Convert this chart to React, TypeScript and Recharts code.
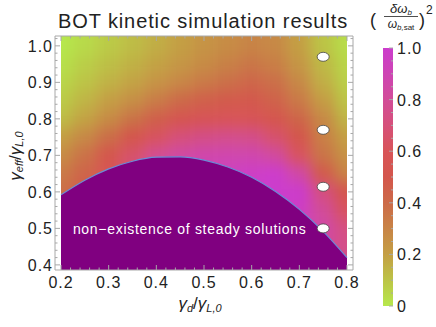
import React from 'react';
import { ComposedChart, XAxis, YAxis, Area, Scatter, ReferenceArea, ReferenceDot } from 'recharts';

// ---------- data ----------
const gridX = [0.2, 0.25, 0.3, 0.35, 0.4, 0.45, 0.5, 0.55, 0.6, 0.65, 0.7, 0.75, 0.8];
const gridY = [1.0, 0.95, 0.9, 0.85, 0.8, 0.75, 0.7, 0.65, 0.6, 0.55, 0.5, 0.45, 0.4];
// one row per gridY value, one entry per gridX value
const heatRows = [
  [0.0, 0.04, 0.08, 0.12, 0.16, 0.2, 0.24, 0.27, 0.3, 0.28, 0.2, 0.1, 0.03],
  [0.02, 0.07, 0.11, 0.15, 0.19, 0.23, 0.27, 0.31, 0.35, 0.32, 0.23, 0.13, 0.05],
  [0.05, 0.1, 0.15, 0.19, 0.24, 0.29, 0.34, 0.38, 0.42, 0.38, 0.28, 0.16, 0.07],
  [0.08, 0.14, 0.2, 0.26, 0.33, 0.4, 0.45, 0.48, 0.49, 0.44, 0.34, 0.21, 0.1],
  [0.12, 0.19, 0.27, 0.36, 0.45, 0.53, 0.58, 0.6, 0.58, 0.52, 0.42, 0.28, 0.14],
  [0.2, 0.28, 0.38, 0.5, 0.62, 0.7, 0.74, 0.76, 0.75, 0.66, 0.5, 0.32, 0.2],
  [0.27, 0.37, 0.5, 0.65, 0.78, 0.84, 0.87, 0.88, 0.88, 0.82, 0.62, 0.36, 0.25],
  [0.34, 0.43, 0.57, 0.72, 0.84, 0.89, 0.92, 0.94, 0.97, 1.0, 0.85, 0.48, 0.3],
  [0.38, 0.47, 0.6, 0.75, 0.86, 0.9, 0.94, 0.97, 1.0, 1.0, 1.0, 0.72, 0.5],
  [0.4, 0.48, 0.62, 0.76, 0.86, 0.9, 0.94, 0.97, 1.0, 1.0, 0.97, 0.8, 0.62],
  [0.4, 0.48, 0.62, 0.76, 0.86, 0.9, 0.94, 0.97, 0.98, 0.98, 0.92, 0.85, 0.72],
  [0.4, 0.48, 0.62, 0.76, 0.86, 0.9, 0.94, 0.97, 0.98, 0.95, 0.88, 0.82, 0.75],
  [0.4, 0.48, 0.62, 0.76, 0.86, 0.9, 0.94, 0.97, 0.98, 0.95, 0.88, 0.82, 0.75],
];

const boundaryX = [0.2, 0.25, 0.3, 0.35, 0.4, 0.45, 0.5, 0.55, 0.6, 0.65, 0.7, 0.75, 0.8];
const boundaryY = [0.592, 0.632, 0.663, 0.684, 0.695, 0.696, 0.687, 0.668, 0.64, 0.601, 0.552, 0.492, 0.42];

const pointX = [0.75, 0.75, 0.75, 0.75];
const pointY = [0.97, 0.77, 0.614, 0.5];

const xMajorTicks = [0.2, 0.3, 0.4, 0.5, 0.6, 0.7, 0.8];
const yMajorTicks = [0.4, 0.5, 0.6, 0.7, 0.8, 0.9, 1.0];
const cbMajorTicks = [0, 0.2, 0.4, 0.6, 0.8, 1.0];
const cbTickLabels = ['0', '0.2', '0.4', '0.6', '0.8', '1.0'];

const colorStopValues = [0, 0.1, 0.2, 0.3, 0.4, 0.5, 0.6, 0.7, 0.8, 0.9, 1.0];
const colorStopColors = ['#b6e84c', '#bcc446', '#c49f44', '#c88446', '#cc6a48', '#d4564c', '#d85458', '#d6507a', '#d24c98', '#ce44b4', '#cc3ccc'];

const TITLE = 'BOT kinetic simulation results';
const REGION_LABEL = 'non\u2212existence of steady solutions';

// ---------- layout / style ----------
const W = 436;
const H = 327;
const FRAME = { left: 55, right: 353, top: 36, bottom: 270 };
const X_DOMAIN: [number, number] = [0.1874, 0.8126];
const Y_DOMAIN: [number, number] = [0.386, 1.027];
const CB = { left: 383, right: 393, top: 48, bottom: 306 };
const FRAME_COLOR = '#a8a8a8';
const TEXT_COLOR = '#222';
const FONT = '"Liberation Sans", Arial, sans-serif';
const PURPLE = '#800080';
const EDGE_EXT = 0.12;

// ---------- helpers ----------
function hexToRgb(h: string) {
  const n = parseInt(h.slice(1), 16);
  return [(n >> 16) & 255, (n >> 8) & 255, n & 255];
}
function heatColor(v: number) {
  const t = Math.max(0, Math.min(1, v));
  let i = 0;
  while (i < colorStopValues.length - 2 && t > colorStopValues[i + 1]) i++;
  const a = hexToRgb(colorStopColors[i]);
  const b = hexToRgb(colorStopColors[i + 1]);
  const f = (t - colorStopValues[i]) / (colorStopValues[i + 1] - colorStopValues[i]);
  const c = a.map((av, k) => Math.round(av + (b[k] - av) * f));
  return `rgb(${c[0]},${c[1]},${c[2]})`;
}
function steps(a: number, b: number, s: number) {
  const out: number[] = [];
  const n = Math.round((b - a) / s);
  for (let i = 0; i <= n; i++) out.push(Math.round((a + i * s) * 1000) / 1000);
  return out;
}
const isIn = (arr: number[], v: number) => arr.some((m) => Math.abs(m - v) < 1e-6);

const cells: { key: string; x1: number; x2: number; y1: number; y2: number; fill: string }[] = [];
gridY.forEach((yv, r) => {
  const top = r === 0 ? yv + EDGE_EXT : (gridY[r - 1] + yv) / 2;
  const bot = r === gridY.length - 1 ? yv - EDGE_EXT : (yv + gridY[r + 1]) / 2;
  gridX.forEach((xv, c) => {
    const left = c === 0 ? xv - EDGE_EXT : (gridX[c - 1] + xv) / 2;
    const right = c === gridX.length - 1 ? xv + EDGE_EXT : (xv + gridX[c + 1]) / 2;
    cells.push({ key: `${r}-${c}`, x1: left, x2: right, y1: bot, y2: top, fill: heatColor(heatRows[r][c]) });
  });
});

const boundaryData = boundaryX.map((x, i) => ({ x, y: boundaryY[i] }));
const pointData = pointX.map((x, i) => ({ x, y: pointY[i] }));

const xTickAll = steps(0.2, 0.8, 0.02);
const yTickAll = steps(0.4, 1.02, 0.02);
const cbTickAll = steps(0, 1, 0.05);

type Side = 'bottom' | 'top' | 'left' | 'right' | 'cb';
function makeTick(side: Side, majors: number[], label: boolean, fmt: (v: number) => string) {
  return (props: any) => {
    const { x, y, payload } = props;
    const v = payload.value;
    const major = isIn(majors, v);
    const len = major ? 5 : 2.5;
    let x2 = x;
    let y2 = y;
    if (side === 'bottom') y2 = y - len;
    if (side === 'top') y2 = y + len;
    if (side === 'left') x2 = x + len;
    if (side === 'right' || side === 'cb') x2 = x - (side === 'cb' ? (major ? 4 : 2) : len);
    let txt: any = null;
    if (label && major) {
      const common = { fontSize: 16, fill: TEXT_COLOR, fontFamily: FONT, letterSpacing: 1 };
      if (side === 'bottom') txt = <text x={x} y={y + 18} textAnchor="middle" {...common}>{fmt(v)}</text>;
      if (side === 'left') txt = <text x={x - 2} y={y + 6} textAnchor="end" {...common}>{fmt(v)}</text>;
      if (side === 'cb') txt = <text x={x + 4} y={y + 6} textAnchor="start" {...common}>{fmt(v)}</text>;
    }
    return (
      <g>
        <line x1={x} y1={y} x2={x2} y2={y2} stroke={FRAME_COLOR} strokeWidth={1} />
        {txt}
      </g>
    );
  };
}

const fmt1 = (v: number) => v.toFixed(1);
const fmtCb = (v: number) => {
  const i = cbMajorTicks.findIndex((m) => Math.abs(m - v) < 1e-6);
  return i >= 0 ? cbTickLabels[i] : '';
};

const EllipseShape = (p: any) => (
  <ellipse cx={p.cx} cy={p.cy} rx={6} ry={4.5} fill="#ffffff" stroke="#444" strokeWidth={0.8} />
);

const RegionLabel = (p: any) => {
  const vb = p.viewBox || {};
  const cx = (vb.x ?? 0) + (vb.width ?? 0) / 2;
  const cy = (vb.y ?? 0) + (vb.height ?? 0) / 2;
  return (
    <text x={cx} y={cy + 5} textAnchor="middle" fill="#ffffff" fontSize={14} fontFamily={FONT} letterSpacing={0.7}>
      {REGION_LABEL}
    </text>
  );
};

export default function App() {
  const frameMargin = { top: FRAME.top, left: FRAME.left, right: W - FRAME.right, bottom: H - FRAME.bottom };
  return (
    <div style={{ position: 'absolute', left: 0, top: 0, width: W, height: H, background: '#fff', overflow: 'hidden', fontFamily: FONT }}>
      <svg width={0} height={0} style={{ position: 'absolute' }}>
        <defs>
          <linearGradient id="cbGrad" x1="0" y1="1" x2="0" y2="0">
            {colorStopValues.map((v, i) => (
              <stop key={i} offset={`${v * 100}%`} stopColor={colorStopColors[i]} />
            ))}
          </linearGradient>
        </defs>
      </svg>

      {/* heat map underlay, smoothed */}
      <div
        style={{
          position: 'absolute',
          left: FRAME.left,
          top: FRAME.top,
          width: FRAME.right - FRAME.left,
          height: FRAME.bottom - FRAME.top,
          overflow: 'hidden',
        }}
      >
        <div style={{ position: 'absolute', left: -FRAME.left, top: -FRAME.top, filter: 'blur(7px)' }}>
          <ComposedChart width={W} height={H} data={boundaryData} margin={frameMargin}>
            <XAxis type="number" dataKey="x" domain={X_DOMAIN} allowDataOverflow hide />
            <YAxis type="number" dataKey="y" domain={Y_DOMAIN} allowDataOverflow hide />
            {cells.map((c) => (
              <ReferenceArea
                key={c.key}
                x1={c.x1}
                x2={c.x2}
                y1={c.y1}
                y2={c.y2}
                fill={c.fill}
                fillOpacity={1}
                stroke={c.fill}
                strokeWidth={0.6}
                ifOverflow="visible"
              />
            ))}
          </ComposedChart>
        </div>
      </div>

      {/* main chart */}
      <div style={{ position: 'absolute', left: 0, top: 0 }}>
        <ComposedChart
          width={W}
          height={H}
          data={boundaryData}
          margin={{ top: FRAME.top, left: FRAME.left - 40, right: W - FRAME.right, bottom: H - FRAME.bottom - 30 }}
        >
          <XAxis
            xAxisId="b"
            type="number"
            dataKey="x"
            domain={X_DOMAIN}
            allowDataOverflow
            ticks={xTickAll}
            interval={0}
            height={30}
            tickSize={0}
            tickMargin={0}
            tickLine={false}
            axisLine={{ stroke: FRAME_COLOR }}
            tick={makeTick('bottom', xMajorTicks, true, fmt1)}
          />
          <XAxis
            xAxisId="t"
            orientation="top"
            mirror
            type="number"
            dataKey="x"
            domain={X_DOMAIN}
            allowDataOverflow
            ticks={xTickAll}
            interval={0}
            tickSize={0}
            tickMargin={0}
            tickLine={false}
            axisLine={{ stroke: FRAME_COLOR }}
            tick={makeTick('top', xMajorTicks, false, fmt1)}
          />
          <YAxis
            yAxisId="l"
            type="number"
            dataKey="y"
            domain={Y_DOMAIN}
            allowDataOverflow
            ticks={yTickAll}
            interval={0}
            width={40}
            tickSize={0}
            tickMargin={0}
            tickLine={false}
            axisLine={{ stroke: FRAME_COLOR }}
            tick={makeTick('left', yMajorTicks, true, fmt1)}
          />
          <YAxis
            yAxisId="r"
            orientation="right"
            mirror
            type="number"
            dataKey="y"
            domain={Y_DOMAIN}
            allowDataOverflow
            ticks={yTickAll}
            interval={0}
            tickSize={0}
            tickMargin={0}
            tickLine={false}
            axisLine={{ stroke: FRAME_COLOR }}
            tick={makeTick('right', yMajorTicks, false, fmt1)}
          />
          <ReferenceArea xAxisId="b" yAxisId="l" x1={X_DOMAIN[0]} x2={gridX[0]} y1={Y_DOMAIN[0]} y2={Y_DOMAIN[1]} fill="#fff" fillOpacity={1} stroke="none" ifOverflow="visible" />
          <ReferenceArea xAxisId="b" yAxisId="l" x1={gridX[gridX.length - 1]} x2={X_DOMAIN[1]} y1={Y_DOMAIN[0]} y2={Y_DOMAIN[1]} fill="#fff" fillOpacity={1} stroke="none" ifOverflow="visible" />
          <Area
            xAxisId="b"
            yAxisId="l"
            type="monotone"
            dataKey="y"
            baseValue="dataMin"
            fill={PURPLE}
            fillOpacity={1}
            stroke="#6a8cd6"
            strokeWidth={1.2}
            isAnimationActive={false}
            dot={false}
            activeDot={false}
          />
          <Scatter xAxisId="b" yAxisId="l" data={pointData} dataKey="y" shape={EllipseShape} isAnimationActive={false} />
          <ReferenceDot xAxisId="b" yAxisId="l" x={0.47} y={0.497} r={1} fill="none" stroke="none" ifOverflow="visible" label={RegionLabel} />
        </ComposedChart>
      </div>

      {/* colour bar */}
      <div style={{ position: 'absolute', left: 0, top: 0 }}>
        <ComposedChart width={W} height={H} data={boundaryData} margin={{ top: CB.top, left: CB.left, right: W - CB.right - 40, bottom: H - CB.bottom }}>
          <XAxis xAxisId="cbx" type="number" dataKey="x" domain={[0, 1]} allowDataOverflow hide />
          <YAxis
            yAxisId="cby"
            orientation="right"
            type="number"
            domain={[0, 1]}
            allowDataOverflow
            ticks={cbTickAll}
            interval={0}
            width={40}
            tickSize={0}
            tickMargin={0}
            tickLine={false}
            axisLine={false}
            tick={makeTick('cb', cbMajorTicks, true, fmtCb)}
          />
          <ReferenceArea xAxisId="cbx" yAxisId="cby" x1={0} x2={1} y1={0} y2={1} fill="url(#cbGrad)" fillOpacity={1} stroke="none" ifOverflow="visible" />
        </ComposedChart>
      </div>

      {/* titles */}
      <svg width={W} height={H} style={{ position: 'absolute', left: 0, top: 0, pointerEvents: 'none' }} fontFamily={FONT}>
        <text x={203} y={28} textAnchor="middle" fontSize={20} fill={TEXT_COLOR} letterSpacing={0.9}>
          {TITLE}
        </text>
        <text x={200} y={309} textAnchor="middle" fontSize={17} fill={TEXT_COLOR} fontStyle="italic">
          γ<tspan fontSize={11} dy={3}>d</tspan>
          <tspan dy={-3} fontStyle="normal">/</tspan>γ<tspan fontSize={11} dy={3}>L,0</tspan>
        </text>
        <text x={17} y={156} transform="rotate(-90 17 156)" textAnchor="middle" fontSize={17} fill={TEXT_COLOR} fontStyle="italic" dominantBaseline="middle">
          γ<tspan fontSize={11} dy={3}>eff</tspan>
          <tspan dy={-3} fontStyle="normal">/</tspan>γ<tspan fontSize={11} dy={3}>L,0</tspan>
        </text>
        {/* colour bar title */}
        <text x={370} y={26} fontSize={18} fill={TEXT_COLOR}>(</text>
        <text x={401} y={13} textAnchor="middle" fontSize={13} fill={TEXT_COLOR} fontStyle="italic">
          δω<tspan fontSize={8} dy={2}>b</tspan>
        </text>
        <line x1={384} x2={418} y1={16.5} y2={16.5} stroke={TEXT_COLOR} strokeWidth={0.8} />
        <text x={401} y={28} textAnchor="middle" fontSize={12} fill={TEXT_COLOR} fontStyle="italic">
          ω<tspan fontSize={8} dy={2}>b,</tspan>
          <tspan fontSize={8} fontStyle="normal">sat</tspan>
        </text>
        <text x={419} y={26} fontSize={18} fill={TEXT_COLOR}>)</text>
        <text x={426} y={14} fontSize={12} fill={TEXT_COLOR}>2</text>
      </svg>
    </div>
  );
}
